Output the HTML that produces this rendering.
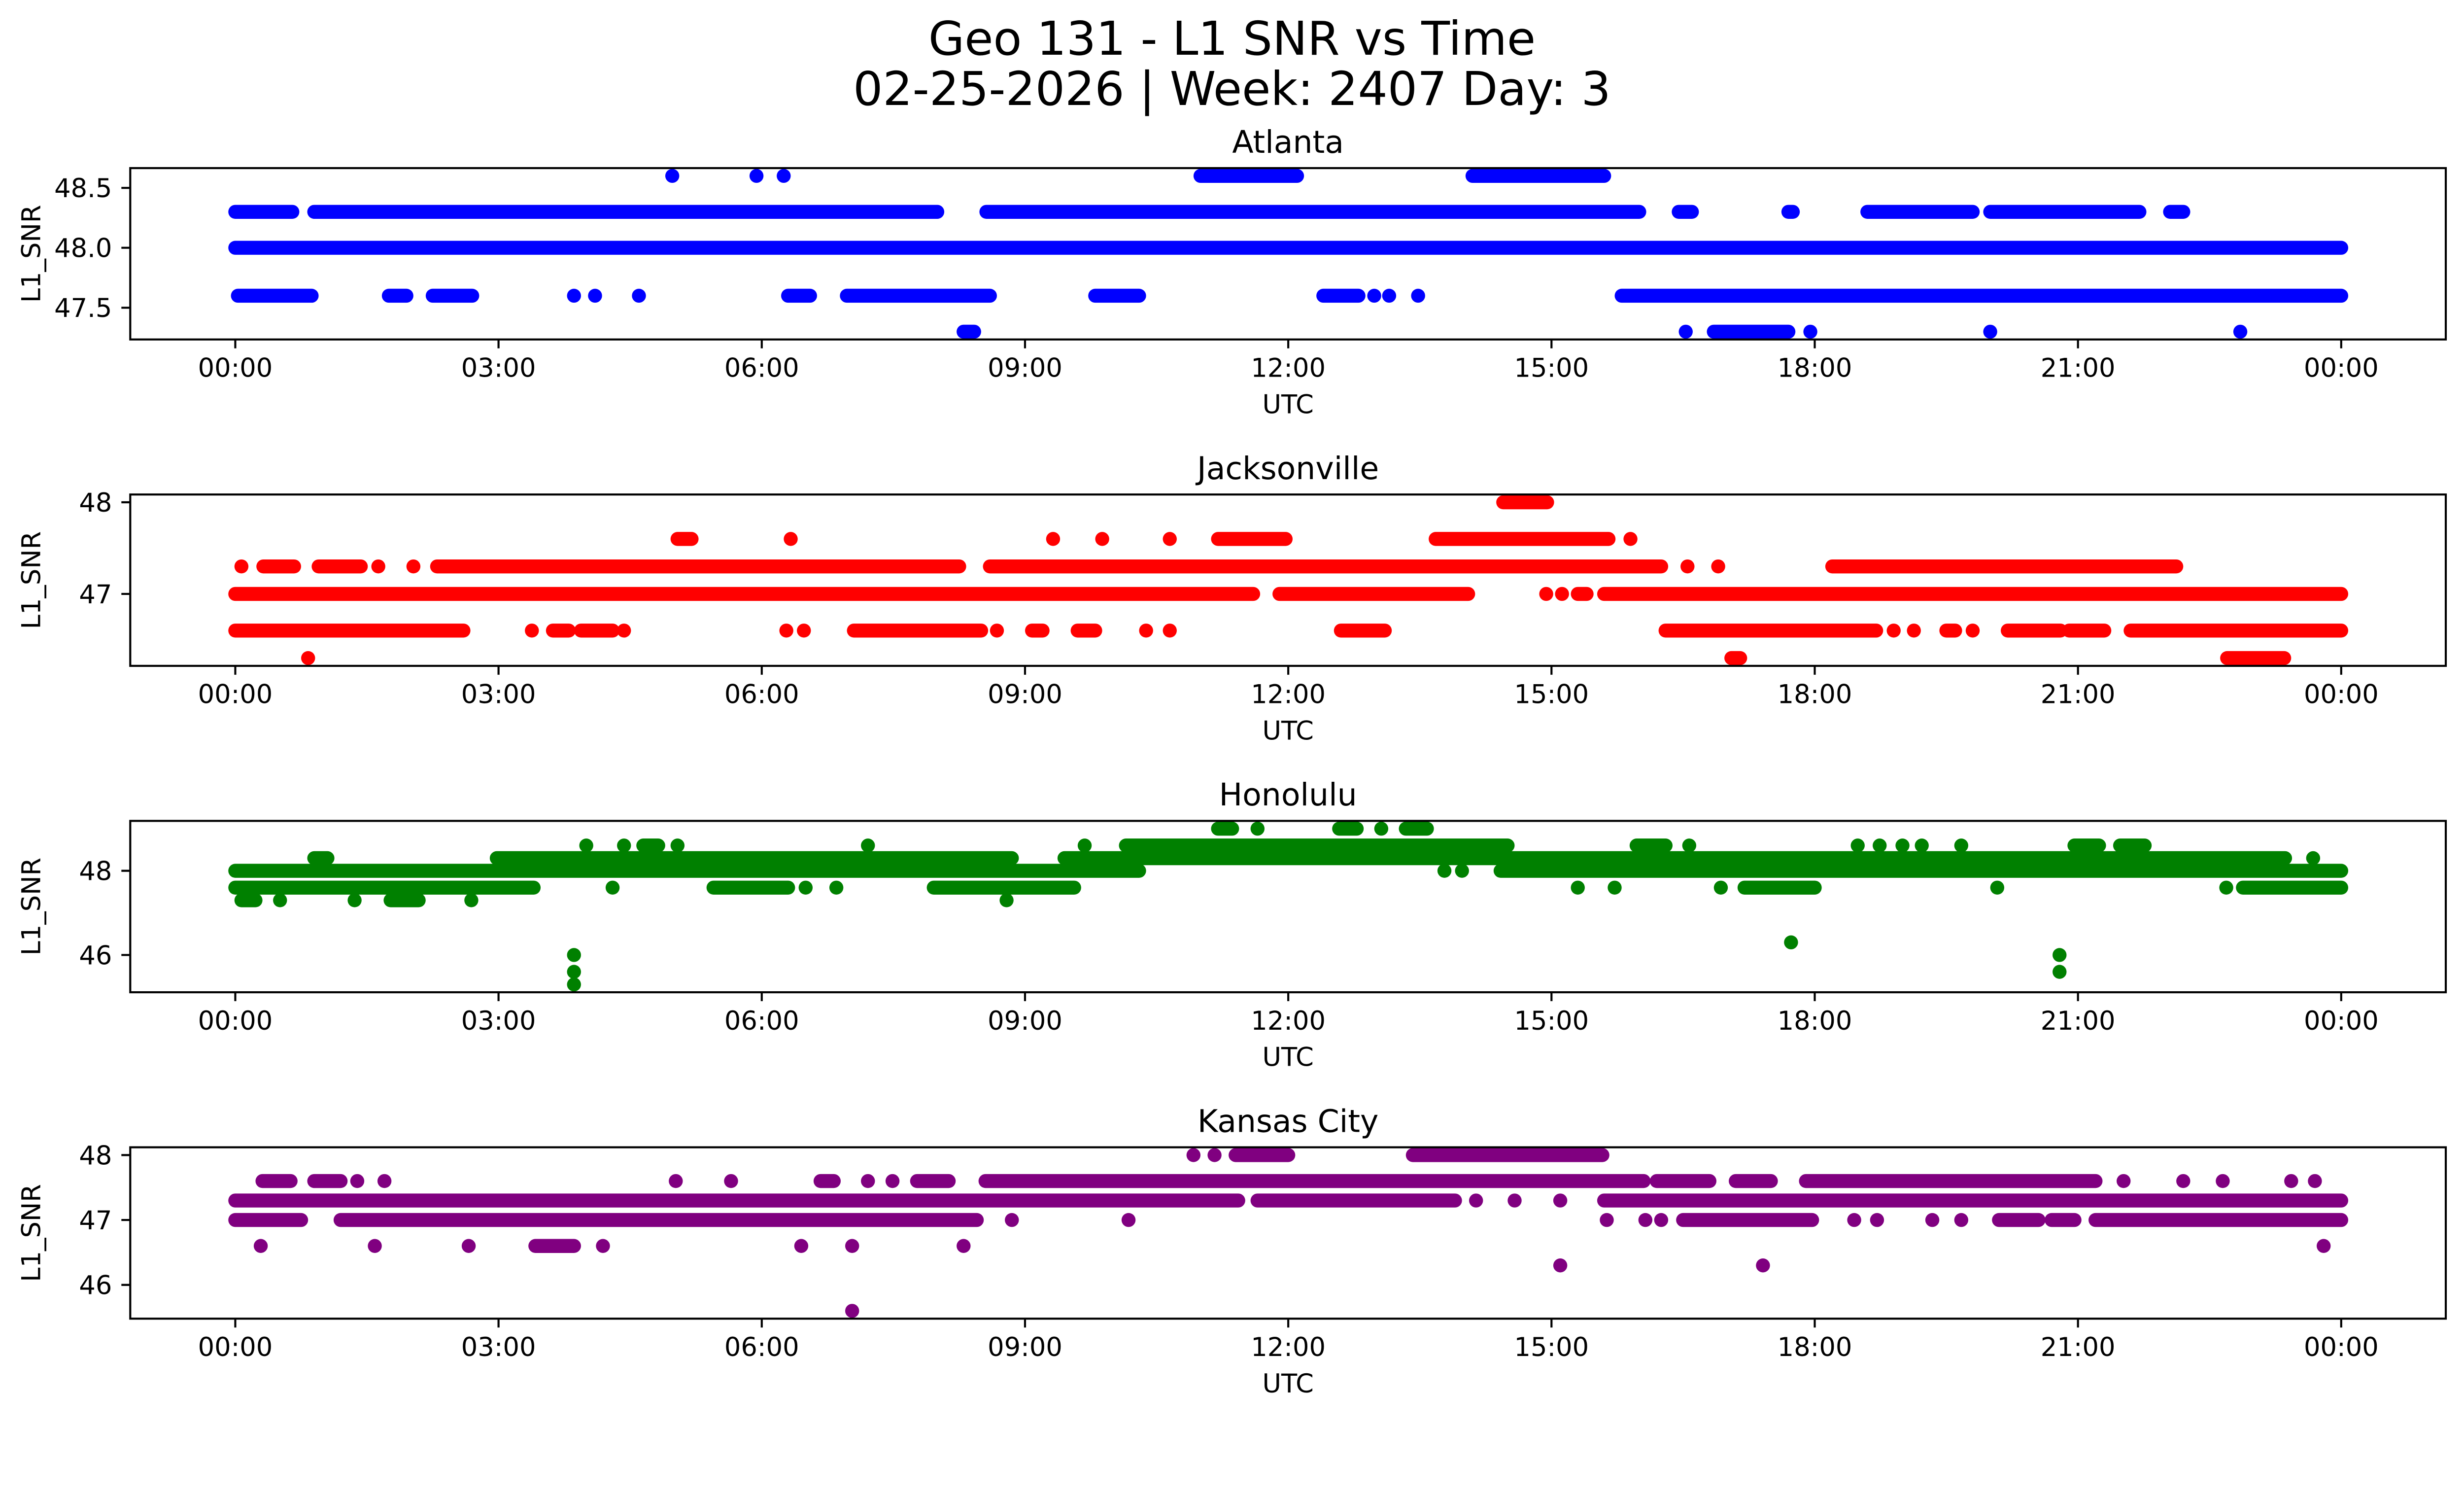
<!DOCTYPE html>
<html><head><meta charset="utf-8">
<style>
html,body{margin:0;padding:0;background:#fff;overflow:hidden;}
svg{display:block;width:100vw;height:calc(100vw * 3033 / 5278);font-family:"DejaVu Sans","Liberation Sans",sans-serif;}
</style></head>
<body>
<svg id="fig" viewBox="0 0 5278 3033" preserveAspectRatio="xMinYMin meet" xmlns="http://www.w3.org/2000/svg">
<rect width="5278" height="3033" fill="#fff"/>
<text x="2639" y="117" font-size="100" text-anchor="middle">Geo 131 - L1 SNR vs Time</text>
<text x="2639" y="225" font-size="100" text-anchor="middle">02-25-2026 | Week: 2407 Day: 3</text>
</svg>
<script>
// ---- Data (hours UTC, runs of consecutive samples per SNR level) ----
const stationNames = ["Atlanta","Jacksonville","Honolulu","Kansas City"];
const stationColors = ["#0000ff","#ff0000","#008000","#800080"];
const xTickLabels = ["00:00","03:00","06:00","09:00","12:00","15:00","18:00","21:00","00:00"];
const xTickHours = [0,3,6,9,12,15,18,21,24];

const atlLevels = [48.6,48.3,48.0,47.6,47.3];
const atlRuns = [
 [[4.98,4.98],[5.94,5.94],[6.25,6.25],[11.0,12.1],[14.1,15.6]],
 [[0.0,0.65],[0.9,8.0],[8.56,16.0],[16.45,16.6],[17.7,17.75],[18.6,19.8],[20.0,21.7],[22.05,22.2]],
 [[0.0,24.0]],
 [[0.03,0.87],[1.75,1.95],[2.25,2.7],[3.86,3.86],[4.1,4.1],[4.6,4.6],[6.3,6.55],[6.97,8.6],[9.8,10.3],[12.4,12.8],[12.98,12.98],[13.15,13.15],[13.48,13.48],[15.8,24.0]],
 [[8.3,8.42],[16.53,16.53],[16.85,17.7],[17.95,17.95],[20.0,20.0],[22.85,22.85]]
];
const atlYTicks = [47.5,48.0,48.5];
const atlYTickLabels = ["47.5","48.0","48.5"];

const jaxLevels = [48.0,47.6,47.3,47.0,46.6,46.3];
const jaxRuns = [
 [[14.45,14.95]],
 [[5.04,5.2],[6.33,6.33],[9.32,9.32],[9.88,9.88],[10.65,10.65],[11.2,11.97],[13.68,15.65],[15.9,15.9]],
 [[0.07,0.07],[0.32,0.67],[0.95,1.43],[1.63,1.63],[2.03,2.03],[2.3,8.25],[8.6,16.25],[16.55,16.55],[16.9,16.9],[18.2,22.12]],
 [[0.0,11.6],[11.9,14.05],[14.94,14.94],[15.12,15.12],[15.3,15.4],[15.6,24.0]],
 [[0.0,2.6],[3.38,3.38],[3.62,3.8],[3.94,4.3],[4.43,4.43],[6.28,6.28],[6.48,6.48],[7.05,8.5],[8.68,8.68],[9.08,9.2],[9.6,9.8],[10.38,10.38],[10.65,10.65],[12.6,13.1],[16.3,18.7],[18.9,18.9],[19.13,19.13],[19.5,19.6],[19.8,19.8],[20.2,20.8],[20.9,21.3],[21.6,24.0]],
 [[0.83,0.83],[17.05,17.15],[22.7,23.35]]
];
const jaxYTicks = [47,48];
const jaxYTickLabels = ["47","48"];

const hnlLevels = [49.0,48.6,48.3,48.0,47.6,47.3,46.3,46.0,45.6,45.3];
const hnlRuns = [
 [[11.2,11.36],[11.65,11.65],[12.58,12.78],[13.06,13.06],[13.34,13.58]],
 [[4.0,4.0],[4.43,4.43],[4.65,4.82],[5.04,5.04],[7.21,7.21],[9.68,9.68],[10.15,14.5],[15.97,16.3],[16.57,16.57],[18.49,18.49],[18.74,18.74],[19.0,19.0],[19.22,19.22],[19.67,19.67],[20.96,21.24],[21.48,21.76]],
 [[0.9,1.05],[2.98,8.85],[9.45,23.36],[23.68,23.68]],
 [[0.0,10.3],[13.78,13.78],[13.98,13.98],[14.42,24.0]],
 [[0.0,3.4],[4.3,4.3],[5.45,6.3],[6.5,6.5],[6.85,6.85],[7.96,9.56],[15.3,15.3],[15.72,15.72],[16.93,16.93],[17.2,18.0],[20.08,20.08],[22.69,22.69],[22.88,24.0]],
 [[0.07,0.23],[0.51,0.51],[1.36,1.36],[1.77,2.09],[2.69,2.69],[8.79,8.79]],
 [[17.73,17.73]],
 [[3.86,3.86],[20.79,20.79]],
 [[3.86,3.86],[20.79,20.79]],
 [[3.86,3.86]]
];
const hnlYTicks = [46,48];
const hnlYTickLabels = ["46","48"];

const mciLevels = [48.0,47.6,47.3,47.0,46.6,46.3,45.6];
const mciRuns = [
 [[10.92,10.92],[11.16,11.16],[11.4,12.0],[13.42,15.58]],
 [[0.31,0.63],[0.9,1.2],[1.39,1.39],[1.7,1.7],[5.02,5.02],[5.65,5.65],[6.67,6.82],[7.21,7.21],[7.49,7.49],[7.77,8.13],[8.55,16.05],[16.2,16.8],[17.1,17.5],[17.9,21.2],[21.52,21.52],[22.2,22.2],[22.65,22.65],[23.43,23.43],[23.7,23.7]],
 [[0.0,11.43],[11.65,13.9],[14.14,14.14],[14.58,14.58],[15.1,15.1],[15.6,24.0]],
 [[0.0,0.75],[1.2,8.45],[8.85,8.85],[10.18,10.18],[15.63,15.63],[16.07,16.07],[16.25,16.25],[16.5,17.97],[18.45,18.45],[18.71,18.71],[19.34,19.34],[19.67,19.67],[20.1,20.55],[20.7,20.96],[21.2,24.0]],
 [[0.29,0.29],[1.59,1.59],[2.66,2.66],[3.42,3.86],[4.19,4.19],[6.45,6.45],[7.03,7.03],[8.3,8.3],[23.8,23.8]],
 [[15.1,15.1],[17.41,17.41]],
 [[7.03,7.03]]
];
const mciYTicks = [46,47,48];
const mciYTickLabels = ["46","47","48"];

// ---- Rendering ----
const NS = "http://www.w3.org/2000/svg";
const svg = document.getElementById("fig");
const AX_L = 279, AX_R = 5239, AX_H = 367;
const AX_TOPS = [360, 1059, 1758, 2457];
const X0 = 504, X24 = 5015;
function xScale(h){ return X0 + h * (X24 - X0) / 24; }
function mk(tag, attrs, parent){
  const e = document.createElementNS(NS, tag);
  for (const k in attrs) e.setAttribute(k, attrs[k]);
  (parent || svg).appendChild(e);
  return e;
}
const panels = [
  [atlLevels, atlRuns, atlYTicks, atlYTickLabels],
  [jaxLevels, jaxRuns, jaxYTicks, jaxYTickLabels],
  [hnlLevels, hnlRuns, hnlYTicks, hnlYTickLabels],
  [mciLevels, mciRuns, mciYTicks, mciYTickLabels]
];
const slugs = ["atlanta","jacksonville","honolulu","kansas-city"];
panels.forEach((p, i) => {
  const [levels, runs, yTicks, yLabels] = p;
  const top = AX_TOPS[i], bot = top + AX_H;
  const lo = Math.min(...levels), hi = Math.max(...levels);
  const m = (hi - lo) * 0.05;
  const yMin = lo - m, yMax = hi + m;
  const yScale = v => bot - (v - yMin) / (yMax - yMin) * AX_H;
  const g = mk("g", {});
  
  
  const clipId = "clip" + i;
  const cp = mk("clipPath", {id: clipId}, g);
  mk("rect", {x: AX_L, y: top, width: AX_R - AX_L, height: AX_H}, cp);
  const series = mk("g", {"clip-path": "url(#" + clipId + ")", stroke: stationColors[i], "stroke-width": 30, "stroke-linecap": "round", fill: "none"}, g);
  
  
  levels.forEach((lv, li) => {
    runs[li].forEach(r => {
      const ln = mk("line", {x1: xScale(r[0]), x2: xScale(r[1]), y1: yScale(lv), y2: yScale(lv)}, series);
      
      
    });
  });
  const frame = mk("rect", {x: AX_L, y: top, width: AX_R - AX_L, height: AX_H, fill: "none", stroke: "#000", "stroke-width": 4.4}, g);
  
  
  xTickHours.forEach((h, ti) => {
    const x = xScale(h);
    mk("line", {x1: x, x2: x, y1: bot, y2: bot + 19, stroke: "#000", "stroke-width": 4.4}, g);
    const t = mk("text", {x: x, y: bot + 80, "font-size": 55.6, "text-anchor": "middle"}, g);
    t.textContent = xTickLabels[ti];
    
    
  });
  yTicks.forEach((v, ti) => {
    const y = yScale(v);
    mk("line", {x1: AX_L - 19, x2: AX_L, y1: y, y2: y, stroke: "#000", "stroke-width": 4.4}, g);
    const t = mk("text", {x: AX_L - 39, y: y + 20, "font-size": 55.6, "text-anchor": "end"}, g);
    t.textContent = yLabels[ti];
    
    
  });
  const xl = mk("text", {x: (AX_L + AX_R) / 2, y: bot + 158, "font-size": 55.6, "text-anchor": "middle"}, g);
  xl.textContent = "UTC";
  
  
  const cy = top + AX_H / 2;
  const yl = mk("text", {x: 0, y: 0, "font-size": 55.6, "text-anchor": "middle", transform: "translate(86," + cy + ") rotate(-90)"}, g);
  yl.textContent = "L1_SNR";
  
  
  const tt = mk("text", {x: (AX_L + AX_R) / 2, y: top - 33, "font-size": 66.7, "text-anchor": "middle"}, g);
  tt.textContent = stationNames[i];
  
  
});
</script>
</body></html>
